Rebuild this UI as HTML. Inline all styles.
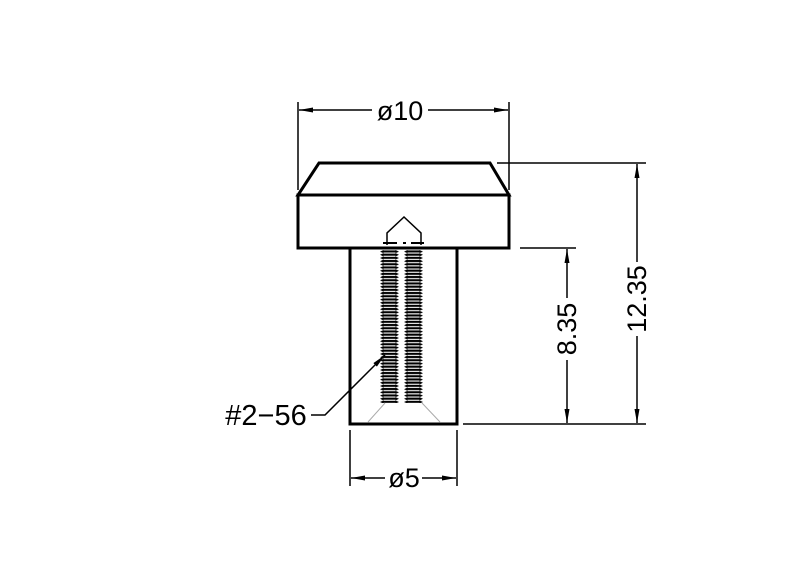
<!DOCTYPE html>
<html><head><meta charset="utf-8"><style>
html,body{margin:0;padding:0;background:#fff}
svg{display:block}
text{font-family:"Liberation Sans",sans-serif;fill:#000}
</style></head><body>
<svg width="800" height="576" viewBox="0 0 800 576" xmlns="http://www.w3.org/2000/svg">
<defs>
<pattern id="thL" x="0" y="250" width="20" height="3.2" patternUnits="userSpaceOnUse">
<rect x="3" y="0.4" width="13" height="2.1" fill="#000"/>
<polygon points="3.5,0 0,1.6 3.5,3.2" fill="#000"/>
<polygon points="15.5,0 19,1.6 15.5,3.2" fill="#000"/>
</pattern>
<marker id="ar" markerWidth="14" markerHeight="8" refX="14" refY="4" orient="auto" markerUnits="userSpaceOnUse">
<path d="M0,1.5 L14,4 L0,6.5 Z" fill="#000"/>
</marker>
</defs>
<g stroke="#000" fill="none" stroke-width="3">
<path d="M319,163 L490,163 L509,195 L298,195 Z"/>
<rect x="298" y="195" width="211" height="53"/>
<path d="M350,248 L350,424 L457,424 L457,248"/>
</g>
<rect x="380" y="250" width="20" height="153" fill="url(#thL)"/>
<rect x="380" y="250" width="20" height="153" fill="url(#thL)" transform="translate(24,0)"/>
<g stroke="#000" stroke-width="1.5" fill="none">
<path d="M387,245 L387,233 L404,217 L421,233 L421,245"/>
<path d="M383,243 H397 M403,243 H406 M411,243 H424" stroke-width="2"/>
</g>
<g stroke="#aaa" stroke-width="1" fill="none">
<path d="M385,403 L368,422 M422,403 L440,422"/>
</g>
<g stroke="#000" stroke-width="1.5" fill="none">
<path d="M298,102 V190 M509,102 V190"/>
<path d="M372,110 H299" marker-end="url(#ar)"/>
<path d="M428,110 H508" marker-end="url(#ar)"/>
<path d="M350,430 V486 M457,430 V486"/>
<path d="M385,478 H351" marker-end="url(#ar)"/>
<path d="M422,478 H456" marker-end="url(#ar)"/>
<path d="M520,248 H576 M463,424 H646 M497,163 H646"/>
<path d="M567,298 V249" marker-end="url(#ar)"/>
<path d="M567,360 V423" marker-end="url(#ar)"/>
<path d="M637,262 V164" marker-end="url(#ar)"/>
<path d="M637,336 V423" marker-end="url(#ar)"/>
<path d="M311,415 H325 L385,355" marker-end="url(#ar)"/>
</g>
<text x="400" y="120" font-size="27" text-anchor="middle">ø10</text>
<text x="404" y="487" font-size="27" text-anchor="middle">ø5</text>
<text x="266" y="425" font-size="29" text-anchor="middle">#2−56</text>
<text transform="translate(576,329) rotate(-90)" font-size="27" text-anchor="middle">8.35</text>
<text transform="translate(646,299) rotate(-90)" font-size="27" text-anchor="middle">12.35</text>
</svg>
</body></html>
